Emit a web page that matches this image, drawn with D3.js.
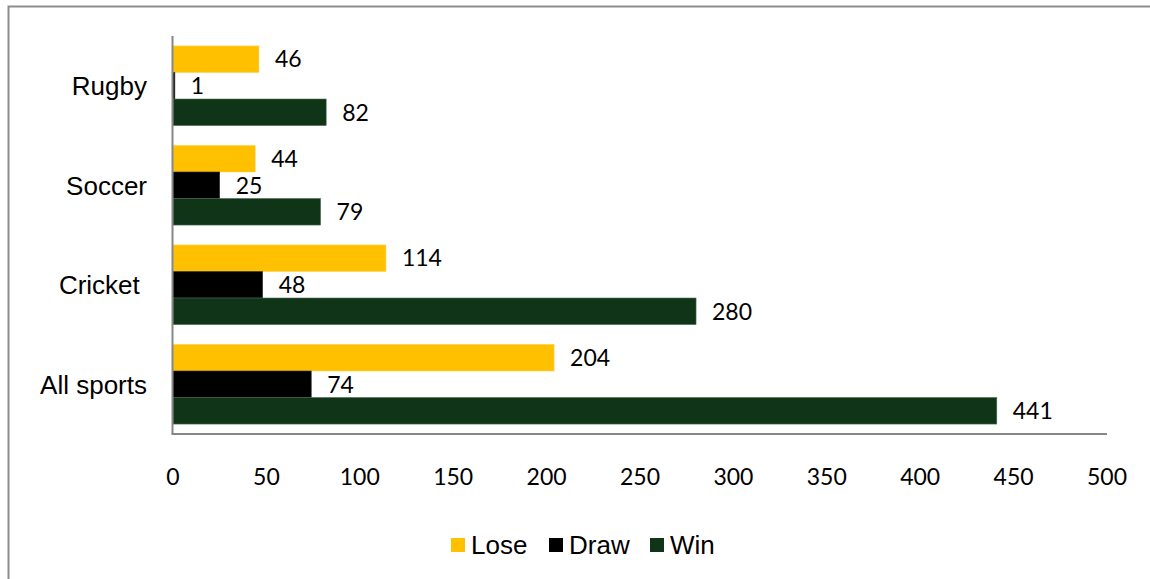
<!DOCTYPE html>
<html>
<head>
<meta charset="utf-8">
<script src="https://cdn.jsdelivr.net/npm/d3@7"></script>
<style>
  html, body { margin: 0; padding: 0; background: #fff; }
  svg { display: block; }
  .num { font-family: Lato, "Open Sans", sans-serif; font-size: 23px; fill: #000; }
  .cat, .leg { font-family: "Liberation Sans", Arial, sans-serif; font-size: 26px; fill: #000; }
</style>
</head>
<body>
<svg id="chart" width="1150" height="579"></svg>
<script>
// data, top to bottom as in the chart
const categories = ['Rugby', 'Soccer', 'Cricket ', 'All sports'];
const seriesNames = ['Lose', 'Draw', 'Win'];
const loseValues = [46, 44, 114, 204];
const drawValues = [1, 25, 48, 74];
const winValues = [82, 79, 280, 441];
const xTicks = [0, 50, 100, 150, 200, 250, 300, 350, 400, 450, 500];

const colors = { Lose: '#FFC000', Draw: '#000000', Win: '#0F3418' };
const strokes = { Lose: '#FFD24D', Draw: '#333333', Win: '#4B6B52' };

const series = [
  { name: 'Lose', values: loseValues },
  { name: 'Draw', values: drawValues },
  { name: 'Win', values: winValues }
];

const svg = d3.select('#chart');

// outer chart frame (only top/left visible in the picture)
svg.append('rect')
  .attr('x', 8.5).attr('y', 6.5)
  .attr('width', 1200).attr('height', 700)
  .attr('fill', 'none').attr('stroke', '#8c8c8c').attr('stroke-width', 2);

const plot = { left: 173, right: 1107, top: 36, bottom: 434 };

const x = d3.scaleLinear().domain([0, 500]).range([plot.left, plot.right]);
const y = d3.scaleBand().domain(categories)
  .range([plot.top, plot.bottom])
  .paddingInner(0.2).paddingOuter(0.1);
const ySub = d3.scaleBand().domain(seriesNames).range([0, y.bandwidth()]);

// bars
const groups = svg.append('g').selectAll('g')
  .data(series).join('g');

groups.selectAll('rect')
  .data(s => s.values.map((v, i) => ({ name: s.name, cat: categories[i], value: v })))
  .join('rect')
  .attr('x', x(0))
  .attr('y', d => y(d.cat) + ySub(d.name))
  .attr('width', d => x(d.value) - x(0))
  .attr('height', ySub.bandwidth())
  .attr('fill', d => colors[d.name])
  .attr('stroke', d => strokes[d.name])
  .attr('stroke-width', 0.6);

// value labels
groups.selectAll('text')
  .data(s => s.values.map((v, i) => ({ name: s.name, cat: categories[i], value: v })))
  .join('text')
  .attr('class', 'num')
  .attr('x', d => x(d.value) + 16)
  .attr('y', d => y(d.cat) + ySub(d.name) + ySub.bandwidth() / 2)
  .attr('dy', '0.36em')
  .text(d => d.value);

// axes lines
svg.append('line')
  .attr('x1', plot.left - 0.5).attr('x2', plot.left - 0.5)
  .attr('y1', plot.top).attr('y2', plot.bottom)
  .attr('stroke', '#868686').attr('stroke-width', 2);
svg.append('line')
  .attr('x1', plot.left - 1.5).attr('x2', plot.right)
  .attr('y1', plot.bottom).attr('y2', plot.bottom)
  .attr('stroke', '#868686').attr('stroke-width', 2);

// x tick labels
svg.append('g').selectAll('text')
  .data(xTicks).join('text')
  .attr('class', 'num')
  .attr('x', d => x(d))
  .attr('y', 477)
  .attr('dy', '0.36em')
  .attr('text-anchor', 'middle')
  .text(d => d);

// category labels
svg.append('g').selectAll('text')
  .data(categories).join('text')
  .attr('class', 'cat')
  .attr('x', 147)
  .attr('y', d => y(d) + y.bandwidth() / 2)
  .attr('dy', '0.36em')
  .attr('text-anchor', 'end')
  .style('white-space', 'pre')
  .text(d => d);

// legend
const legendPos = { Lose: 451, Draw: 549, Win: 650 };
const legend = svg.append('g').selectAll('g')
  .data(seriesNames).join('g')
  .attr('transform', d => `translate(${legendPos[d]},538)`);
legend.append('rect')
  .attr('width', 14).attr('height', 14)
  .attr('fill', d => colors[d]);
legend.append('text')
  .attr('class', 'leg')
  .attr('x', 20).attr('y', 15.5)
  .text(d => d);
</script>
</body>
</html>
